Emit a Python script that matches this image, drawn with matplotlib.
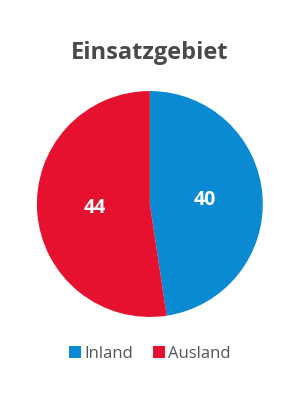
import matplotlib.pyplot as plt

# data
labels = ['Inland', 'Ausland']
values = [40, 44]
colors = ['#0a8ad2', '#e5112f']
title = 'Einsatzgebiet'

plt.rcParams['font.family'] = ['Open Sans', 'DejaVu Sans']

fig = plt.figure(figsize=(3, 4), dpi=100)
fig.patch.set_facecolor('white')

ax = fig.add_axes([0.123, 0.2075, 0.753, 0.565])
wedges, texts = ax.pie(values, colors=colors, startangle=90, counterclock=False,
                       labels=[str(v) for v in values], labeldistance=0.49,
                       wedgeprops=dict(linewidth=0),
                       textprops=dict(family=['Open Sans', 'DejaVu Sans'],
                                      fontweight='bold', fontsize=14, color='white'))
for t in texts:
    t.set_ha('center')
    t.set_va('center')
ax.set_xlim(-1, 1)
ax.set_ylim(-1, 1)
ax.set_aspect('equal')

fig.text(0.5, 0.868, title, ha='center', va='center', fontsize=17,
         fontweight='bold', color='#4a4a4a')

fig.legend(wedges, labels, loc='center', bbox_to_anchor=(0.5, 0.116), ncol=2,
           frameon=False, fontsize=12, handlelength=0.7, handleheight=0.7,
           handletextpad=0.2, columnspacing=1.2, labelcolor='#555555')

plt.savefig('out.png', dpi=100)
